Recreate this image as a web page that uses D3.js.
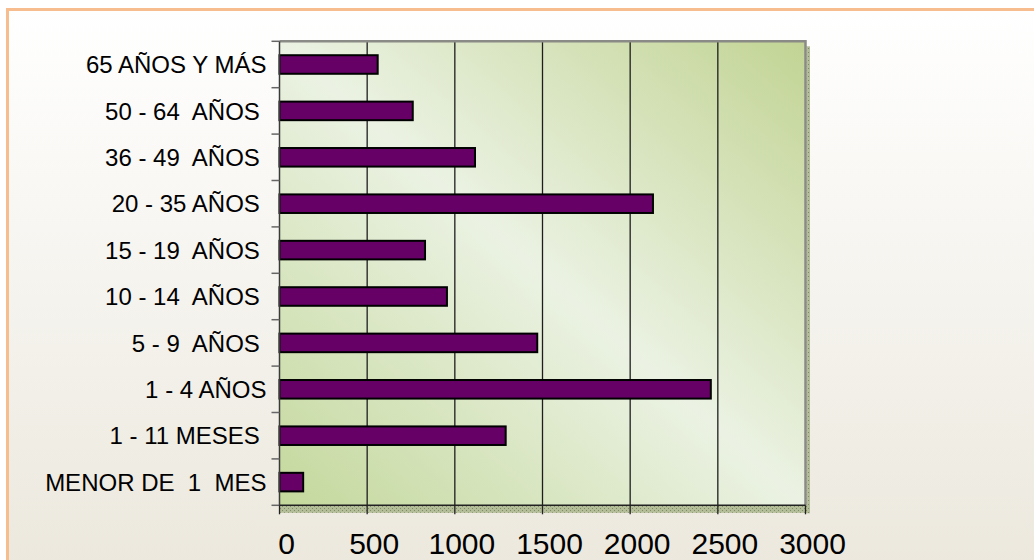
<!DOCTYPE html>
<html>
<head>
<meta charset="utf-8">
<script src="https://cdn.jsdelivr.net/npm/d3@7"></script>
<style>
  html, body { margin: 0; padding: 0; background: #ffffff; }
  svg { display: block; }
  text { font-family: "Liberation Sans", Arial, Helvetica, sans-serif; fill: #000; white-space: pre; }
</style>
</head>
<body>
<svg id="chart" width="1034" height="560"></svg>
<script>
// Age groups, listed from the top row of the chart to the bottom row
const categories = [
  "65 AÑOS Y MÁS",
  "50 - 64  AÑOS ",
  "36 - 49  AÑOS ",
  "20 - 35 AÑOS ",
  "15 - 19  AÑOS ",
  "10 - 14  AÑOS ",
  "5 - 9  AÑOS ",
  "1 - 4 AÑOS",
  "1 - 11 MESES ",
  "MENOR DE  1  MES"
];
// Number of cases per age group (same order as categories)
const values = [560, 760, 1115, 2130, 830, 955, 1470, 2460, 1290, 135];
// Value axis ticks
const xTicks = [0, 500, 1000, 1500, 2000, 2500, 3000];

const svg = d3.select("#chart");
const W = 1034, H = 560;
const plot = { left: 279.5, right: 805.5, top: 41.3, bottom: 505.3 };

const defs = svg.append("defs");

// page background: white fading to a warm grey
const pageGrad = defs.append("linearGradient")
  .attr("id", "pageGrad").attr("x1", 0).attr("y1", 0).attr("x2", 0).attr("y2", 1);
pageGrad.append("stop").attr("offset", 0).attr("stop-color", "#ffffff");
pageGrad.append("stop").attr("offset", 1).attr("stop-color", "#ebe7dc");

// plot area: green at bottom-left and top-right, pale in the middle
const plotGrad = defs.append("linearGradient")
  .attr("id", "plotGrad").attr("x1", 0).attr("y1", 1).attr("x2", 1).attr("y2", 0);
plotGrad.append("stop").attr("offset", 0).attr("stop-color", "#c4d89c");
plotGrad.append("stop").attr("offset", 0.5).attr("stop-color", "#ebf2e3");
plotGrad.append("stop").attr("offset", 1).attr("stop-color", "#c2d494");

// dotted texture for the edge strips of the plot frame
const hatch = defs.append("pattern")
  .attr("id", "hatch").attr("patternUnits", "userSpaceOnUse")
  .attr("width", 4).attr("height", 4);
hatch.append("rect").attr("width", 4).attr("height", 4).attr("fill", "#b3bd97");
hatch.append("rect").attr("x", 0).attr("y", 0).attr("width", 1).attr("height", 1).attr("fill", "#7f8a66");
hatch.append("rect").attr("x", 2).attr("y", 2).attr("width", 1).attr("height", 1).attr("fill", "#7f8a66");

// page background and orange frame
svg.append("rect").attr("x", 0).attr("y", 0).attr("width", W).attr("height", H).attr("fill", "#ffffff");
svg.append("rect").attr("x", 7.5).attr("y", 9.5).attr("width", W + 20).attr("height", H + 20)
  .attr("fill", "url(#pageGrad)").attr("stroke", "#f7bd8e").attr("stroke-width", 3);

// scales
const x = d3.scaleLinear().domain([0, 3000]).range([plot.left, plot.right]);
const y = d3.scaleBand().domain(categories).range([plot.top, plot.bottom])
  .paddingInner(0.6).paddingOuter(0.3);

// plot area fill
svg.append("rect")
  .attr("x", plot.left).attr("y", plot.top)
  .attr("width", plot.right - plot.left).attr("height", plot.bottom - plot.top)
  .attr("fill", "url(#plotGrad)");

// textured strips along the right and bottom edges
svg.append("rect")
  .attr("x", plot.right + 1).attr("y", plot.top + 5)
  .attr("width", 3.5).attr("height", plot.bottom - plot.top + 3)
  .attr("fill", "url(#hatch)");
svg.append("rect")
  .attr("x", plot.left).attr("y", plot.bottom)
  .attr("width", plot.right - plot.left + 4.5).attr("height", 7.5)
  .attr("fill", "url(#hatch)");

// vertical gridlines
svg.append("g").selectAll("line")
  .data(xTicks.filter(t => t > 0 && t < 3000))
  .join("line")
  .attr("x1", d => x(d)).attr("x2", d => x(d))
  .attr("y1", plot.top).attr("y2", plot.bottom)
  .attr("stroke", "#1e1e1e").attr("stroke-width", 1.3);

// frame: top and right edges in grey
svg.append("path")
  .attr("d", `M${plot.left},${plot.top}H${plot.right}V${plot.bottom}`)
  .attr("fill", "none").attr("stroke", "#8a8a86").attr("stroke-width", 2.5);

// bars
svg.append("g").selectAll("rect")
  .data(categories.map((c, i) => ({ c, v: values[i] })))
  .join("rect")
  .attr("x", x(0))
  .attr("y", d => y(d.c))
  .attr("width", d => x(d.v) - x(0))
  .attr("height", y.bandwidth())
  .attr("fill", "#660066")
  .attr("stroke", "#000")
  .attr("stroke-width", 2);

// category axis: line, ticks between categories, labels
const yAxis = svg.append("g");
yAxis.append("line")
  .attr("x1", plot.left).attr("x2", plot.left)
  .attr("y1", plot.top).attr("y2", plot.bottom)
  .attr("stroke", "#3a3a3a").attr("stroke-width", 1.5);
yAxis.selectAll("line.tick")
  .data(d3.range(categories.length + 1))
  .join("line").attr("class", "tick")
  .attr("x1", plot.left - 8).attr("x2", plot.left)
  .attr("y1", i => y.range()[0] + i * y.step())
  .attr("y2", i => y.range()[0] + i * y.step())
  .attr("stroke", "#666").attr("stroke-width", 1.5);
yAxis.selectAll("text")
  .data(categories)
  .join("text")
  .attr("x", 266.5)
  .attr("y", d => y(d) + y.bandwidth() / 2)
  .attr("dy", "0.36em")
  .attr("text-anchor", "end")
  .attr("font-size", 24)
  .text(d => d);

// value axis: line, ticks, labels
const xAxis = svg.append("g");
xAxis.append("line")
  .attr("x1", plot.left).attr("x2", plot.right)
  .attr("y1", plot.bottom).attr("y2", plot.bottom)
  .attr("stroke", "#222").attr("stroke-width", 1.5);
xAxis.selectAll("line.tick")
  .data(xTicks)
  .join("line").attr("class", "tick")
  .attr("x1", d => x(d)).attr("x2", d => x(d))
  .attr("y1", plot.bottom).attr("y2", plot.bottom + 9)
  .attr("stroke", "#222").attr("stroke-width", 1.3);
xAxis.selectAll("text")
  .data(xTicks)
  .join("text")
  .attr("x", d => x(d) + 7)
  .attr("y", 554)
  .attr("text-anchor", "middle")
  .attr("font-size", 30)
  .text(d => d);
</script>
</body>
</html>
